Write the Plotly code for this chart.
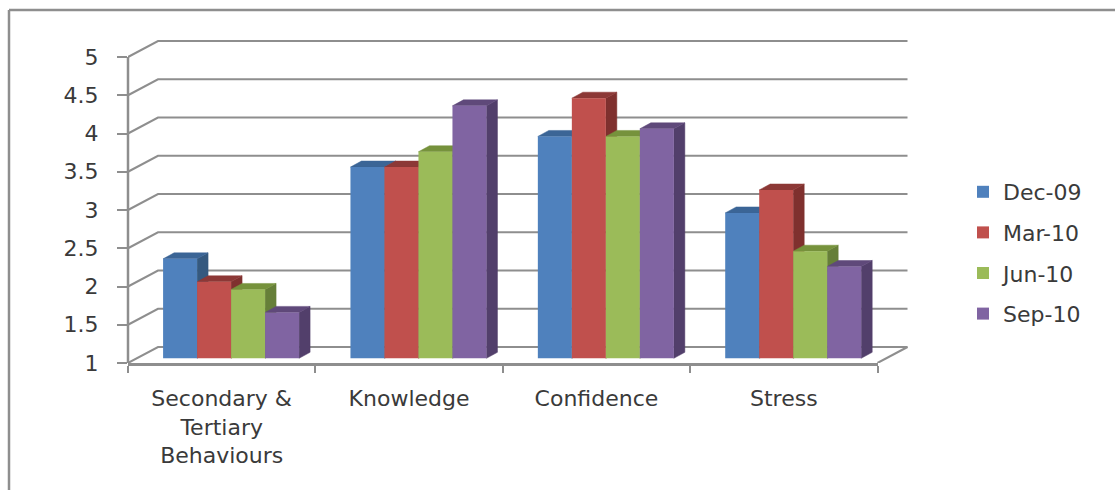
import plotly.graph_objects as go

categories = ["Secondary &<br>Tertiary<br>Behaviours", "Knowledge", "Confidence", "Stress"]
dec_09 = [2.3, 3.5, 3.9, 2.9]
mar_10 = [2.0, 3.5, 4.4, 3.2]
jun_10 = [1.9, 3.7, 3.9, 2.4]
sep_10 = [1.6, 4.3, 4.0, 2.2]
series_names = ["Dec-09", "Mar-10", "Jun-10", "Sep-10"]
series_values = [dec_09, mar_10, jun_10, sep_10]
front_colors = ["#4F81BD", "#C0504D", "#9BBB59", "#8064A2"]
side_colors = ["#35597F", "#7F302E", "#667F38", "#523F6B"]
top_colors = ["#3B6596", "#8C3836", "#76923C", "#5F497A"]
grid_values = [1, 1.5, 2, 2.5, 3, 3.5, 4, 4.5, 5]

W, H = 1115, 490
L, R, T, B = 128, 204, 38, 127   # outer box, including the back wall plus a little room for its lines
PW, PH = W - L - R, H - T - B
FRONT_W, FRONT_H = 749.5, 306    # front plane of the box
px_x = FRONT_W / 4               # pixels per category
px_y = FRONT_H / 4               # pixels per value unit
GREY = "#8E8E8E"
TEXT = "#3A3A3A"
FONT = "DejaVu Sans"
FS = 22

wall_dx, wall_dy = 30 / px_x, 16 / px_y
bar_dx, bar_dy = 11 / px_x, 6 / px_y
bar_w = 34 / px_x
bar_shift = 9.4 / px_x           # bars stand inside the floor, not on its front edge
bar_lift = 4.7 / px_y

fig = go.Figure()

def line(xs, ys, width=2):
    fig.add_trace(go.Scatter(x=xs, y=ys, mode="lines", line=dict(color=GREY, width=width), hoverinfo="skip",
                             showlegend=False, xaxis="x", yaxis="y"))

def poly(xs, ys, color):
    fig.add_trace(go.Scatter(x=xs, y=ys, mode="lines", fill="toself", fillcolor=color,
                             line=dict(color=color, width=0.5), hoverinfo="skip",
                             showlegend=False, xaxis="x", yaxis="y"))

# back wall and side wall gridlines
for v in grid_values:
    line([-0.5, -0.5 + wall_dx, 3.5 + wall_dx], [v, v + wall_dy, v + wall_dy])
# floor right edge
line([3.5, 3.5 + wall_dx], [1, 1 + wall_dy])

# side and top faces of the bars, left to right
for c in range(len(categories)):
    for s, vals in enumerate(series_values):
        xl = c + bar_shift + (s - 2) * bar_w
        xr = xl + bar_w
        top = vals[c] + bar_lift
        base = 1 + bar_lift
        poly([xr, xr, xr + bar_dx, xr + bar_dx, xr], [base, top, top + bar_dy, base + bar_dy, base], side_colors[s])
        poly([xl, xr, xr + bar_dx, xl + bar_dx, xl], [top, top, top + bar_dy, top + bar_dy, top], top_colors[s])

# front faces
for s, vals in enumerate(series_values):
    fig.add_trace(go.Bar(x=categories, y=[v - 1 for v in vals], base=1, name=series_names[s],
                         width=bar_w, offset=bar_shift + (s - 2) * bar_w,
                         marker=dict(color=front_colors[s], line=dict(width=0)),
                         legendgroup=series_names[s], xaxis="x2", yaxis="y2"))

fig.update_layout(
    width=W, height=H,
    margin=dict(l=L, r=R, t=T, b=B, autoexpand=False),
    paper_bgcolor="white", plot_bgcolor="rgba(0,0,0,0)",
    barmode="overlay",
    font=dict(family=FONT, size=FS, color=TEXT),
    xaxis=dict(range=[-0.5, -0.5 + PW / px_x], domain=[0, 1], visible=False, showgrid=False, zeroline=False),
    yaxis=dict(range=[1, 1 + PH / px_y], domain=[0, 1], tickmode="array", tickvals=grid_values,
               ticktext=[f"{v:g}" for v in grid_values],
               showgrid=False, zeroline=False, showline=False,
               ticks="outside", ticklen=10, tickwidth=2, tickcolor=GREY, ticklabelstandoff=14),
    xaxis2=dict(anchor="y2", domain=[0, FRONT_W / PW], type="category", range=[-0.5, 3.5], categoryorder="array",
                categoryarray=categories, tickson="boundaries", showgrid=False, zeroline=False,
                showline=True, linecolor=GREY, linewidth=2.5, ticks="outside", ticklen=7,
                tickwidth=2, tickcolor=GREY, tickangle=0, ticklabelstandoff=14),
    yaxis2=dict(anchor="x2", domain=[0, FRONT_H / PH], range=[1 - bar_lift, 5 - bar_lift], visible=False),
    legend=dict(x=(963 - L) / PW, y=(H - B - 171) / PH, xanchor="left",
                yanchor="top", tracegroupgap=9, itemwidth=30, bgcolor="rgba(0,0,0,0)",
                font=dict(family=FONT, size=FS, color=TEXT)),
    shapes=[
        dict(type="line", xref="paper", yref="paper", x0=(9 - L) / PW, x1=(W - L) / PW,
             y0=(H - B - 10) / PH, y1=(H - B - 10) / PH, line=dict(color=GREY, width=2.5)),
        dict(type="line", xref="paper", yref="paper", x0=(9 - L) / PW, x1=(9 - L) / PW,
             y0=(H - B - 10) / PH, y1=(H - B - H) / PH, line=dict(color=GREY, width=2.5)),
        dict(type="line", xref="paper", yref="paper", x0=0, x1=0,
             y0=0, y1=FRONT_H / PH, line=dict(color=GREY, width=2.5)),
    ],
)

fig.write_html("out.html", config={"displayModeBar": False}, post_script="document.body.style.margin='0';")
